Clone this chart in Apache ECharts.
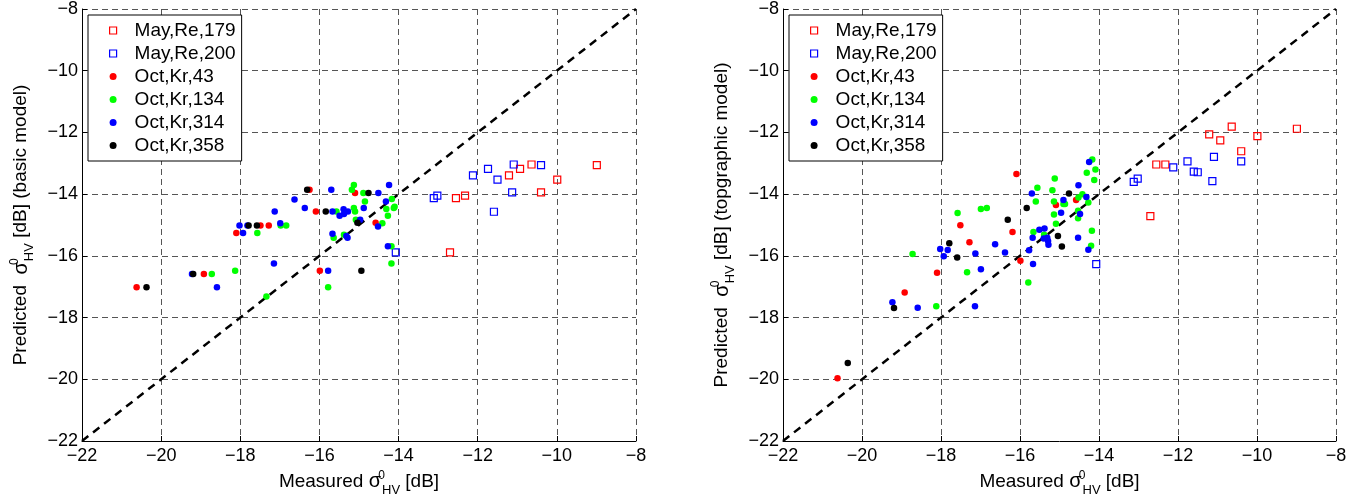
<!DOCTYPE html>
<html>
<head>
<meta charset="utf-8">
<script src="https://cdn.jsdelivr.net/npm/echarts@6/dist/echarts.min.js"></script>
<style>
html, body { margin: 0; padding: 0; background: #fff; }
#basic, #topo { position: absolute; top: 0; width: 681px; height: 504px; }
#basic { left: 0; }
#topo { left: 681px; }
</style>
</head>
<body>
<div id="basic"></div>
<div id="topo"></div>
<script>
var legendNames = ['May,Re,179', 'May,Re,200', 'Oct,Kr,43', 'Oct,Kr,134', 'Oct,Kr,314', 'Oct,Kr,358'];
var axisMin = -22, axisMax = -8, axisStep = 2;
var diagonal = [[-22, -22], [-8, -8]];

// basic model (left)
var may179Basic = [[-10.93, -13.18], [-10.64, -13.04], [-11.21, -13.39], [-9.99, -13.53], [-10.40, -13.94],
    [-8.99, -13.06], [-12.55, -14.13], [-12.32, -14.05], [-12.70, -15.89]];
var may200Basic = [[-12.12, -13.39], [-11.74, -13.18], [-11.50, -13.53], [-11.09, -13.04], [-10.40, -13.06],
    [-11.13, -13.94], [-13.11, -14.13], [-13.02, -14.05], [-11.59, -14.57], [-14.07, -15.89]];
var oct43Basic = [[-16.25, -13.86], [-15.10, -13.96], [-16.09, -14.56], [-14.58, -14.93], [-17.49, -15.02],
    [-17.28, -15.02], [-18.10, -15.26], [-15.99, -16.48], [-18.92, -16.59], [-20.62, -17.02]];
var oct134Basic = [[-15.13, -13.70], [-15.18, -13.86], [-14.89, -13.96], [-14.17, -14.16], [-14.85, -14.24],
    [-15.57, -14.56], [-15.13, -14.45], [-15.10, -14.56], [-14.31, -14.48], [-14.12, -14.45], [-14.10, -14.41],
    [-14.27, -14.70], [-14.41, -14.94], [-15.08, -14.83], [-16.98, -15.02], [-16.84, -15.02], [-17.57, -15.26],
    [-15.64, -15.41], [-15.38, -15.32], [-14.18, -15.69], [-14.18, -16.25], [-18.13, -16.48], [-18.72, -16.59],
    [-15.78, -17.02], [-17.34, -17.32]];
var oct314Basic = [[-15.70, -13.86], [-14.51, -13.96], [-14.24, -13.70], [-14.32, -14.24], [-14.88, -14.45],
    [-16.63, -14.17], [-16.37, -14.45], [-17.13, -14.56], [-15.67, -14.56], [-15.49, -14.70], [-15.38, -14.64],
    [-15.39, -14.49], [-15.28, -14.56], [-14.52, -15.05], [-14.97, -14.83], [-18.02, -15.02], [-17.82, -15.02],
    [-16.99, -14.94], [-17.93, -15.26], [-15.67, -15.28], [-15.32, -15.36], [-15.29, -15.41], [-14.27, -15.69],
    [-17.15, -16.25], [-15.78, -16.48], [-19.22, -16.59], [-18.59, -17.02]];
var oct358Basic = [[-16.31, -13.86], [-14.76, -13.96], [-15.84, -14.56], [-15.04, -14.93], [-17.79, -15.02],
    [-17.58, -15.02], [-14.94, -16.48], [-19.19, -16.59], [-20.37, -17.02]];

// topographic model (right)
var may179Topo = [[-10.64, -11.81], [-8.99, -11.88], [-11.21, -12.06], [-9.99, -12.12], [-10.93, -12.26],
    [-10.40, -12.61], [-12.55, -13.04], [-12.32, -13.04], [-12.70, -14.71]];
var may200Topo = [[-11.09, -12.79], [-10.40, -12.94], [-12.12, -13.13], [-11.76, -12.94], [-11.60, -13.27],
    [-11.50, -13.29], [-11.13, -13.58], [-13.12, -13.60], [-13.02, -13.50], [-14.07, -16.27]];
var oct43Topo = [[-16.09, -13.35], [-14.58, -14.19], [-15.09, -14.35], [-16.19, -15.23], [-15.99, -16.16],
    [-17.28, -15.56], [-17.51, -15.01], [-18.10, -16.55], [-18.92, -17.19], [-20.62, -19.97]];
var oct134Topo = [[-14.17, -12.88], [-14.09, -13.20], [-14.31, -13.31], [-14.12, -13.54], [-15.12, -13.49],
    [-15.56, -13.79], [-15.18, -13.87], [-15.60, -14.24], [-15.14, -14.24], [-14.86, -14.32], [-14.90, -14.32],
    [-14.42, -14.00], [-14.52, -14.11], [-14.27, -14.27], [-15.14, -14.66], [-14.53, -14.54], [-14.53, -14.78],
    [-15.09, -14.96], [-15.66, -15.23], [-15.39, -15.32], [-14.18, -15.19], [-14.20, -15.67], [-15.79, -16.86],
    [-17.34, -16.53], [-17.58, -14.61], [-16.99, -14.48], [-16.84, -14.45], [-18.12, -17.63], [-18.72, -15.94]];
var oct314Topo = [[-14.25, -12.96], [-15.70, -13.98], [-14.90, -14.19], [-14.52, -13.71], [-14.32, -14.09],
    [-14.96, -14.60], [-14.48, -14.64], [-15.51, -15.15], [-15.38, -15.11], [-15.68, -15.41], [-15.40, -15.44],
    [-15.31, -15.41], [-15.29, -15.52], [-15.28, -15.64], [-14.53, -15.41], [-14.27, -15.80], [-15.77, -15.82],
    [-15.67, -16.26], [-16.38, -15.89], [-16.63, -15.62], [-17.13, -15.92], [-16.99, -16.43], [-17.14, -17.63],
    [-18.02, -15.78], [-17.83, -15.81], [-17.93, -16.01], [-19.23, -17.50], [-18.59, -17.68]];
var oct358Topo = [[-14.76, -13.98], [-15.83, -14.45], [-16.31, -14.83], [-15.04, -15.36], [-14.94, -15.70],
    [-17.79, -15.59], [-17.59, -16.05], [-19.19, -17.69], [-20.36, -19.47]];

var colors = ['#ff0000', '#0000ff', '#ff0000', '#00ff00', '#0000ff', '#000000'];
var isSquare = [true, true, false, false, false, false];
var font = 'Liberation Sans, Arial, Helvetica, sans-serif';

var nameRich = {
    m: { fontSize: 19, fontFamily: font, color: '#000' },
    g: { fontSize: 20, fontFamily: font, color: '#000' },
    sup: { fontSize: 12, fontFamily: font, color: '#000', width: 1, padding: [0, 0, 12, 0] },
    sub: { fontSize: 13, fontFamily: font, color: '#000', padding: [17, 0, 0, 0] }
};

function tickText(v) {
    return String(v).replace('-', '\u2212');
}

function axis(name, gap, rotate, labelMargin) {
    return {
        type: 'value',
        min: axisMin,
        max: axisMax,
        interval: axisStep,
        name: name,
        nameLocation: 'middle',
        nameGap: gap,
        nameRotate: rotate,
        nameTextStyle: { rich: nameRich },
        axisLine: { show: true, onZero: false, lineStyle: { color: '#000', width: 1 } },
        axisTick: { show: true, inside: true, length: 5, lineStyle: { color: '#000' } },
        axisLabel: { color: '#000', fontSize: 18, fontFamily: font, margin: labelMargin, formatter: tickText },
        splitLine: { show: true, lineStyle: { color: '#555', width: 1, type: [6, 4] } }
    };
}

function makeOption(yName, groups, gridLeft, gridRight, legendLeft) {
    var series = [{
        type: 'line',
        data: diagonal,
        symbol: 'none',
        silent: true,
        z: 1,
        lineStyle: { color: '#000', width: 2.5, type: [8, 6] }
    }];
    var legendData = [];
    for (var i = 0; i < legendNames.length; i++) {
        var sq = isSquare[i];
        var style = sq
            ? { color: 'rgba(0,0,0,0)', borderColor: colors[i], borderWidth: 1.2, opacity: 1 }
            : { color: colors[i], opacity: 1 };
        series.push({
            name: legendNames[i],
            type: 'scatter',
            data: groups[i],
            symbol: sq ? 'rect' : 'circle',
            symbolSize: sq ? 7 : 6.5,
            itemStyle: style,
            z: sq ? 2 : 3
        });
        legendData.push({ name: legendNames[i], icon: sq ? 'rect' : 'circle', itemStyle: style });
    }
    return {
        animation: false,
        grid: { left: gridLeft, right: gridRight, top: 8, bottom: 63 },
        xAxis: axis('{m|Measured }{g|σ}{sup|0}{sub|HV}{m| [dB]}', 20, 0, 6),
        yAxis: axis(yName, 46, 90, 4),
        legend: {
            orient: 'vertical',
            left: legendLeft,
            top: 15,
            padding: [4, 6, 4, 21],
            itemWidth: 7,
            itemHeight: 7,
            itemGap: 0,
            selectedMode: false,
            borderColor: '#000',
            borderWidth: 1,
            borderRadius: 0,
            backgroundColor: '#fff',
            textStyle: { color: '#000', fontSize: 19, fontFamily: font, lineHeight: 23, padding: [0, 0, 0, 13] },
            data: legendData
        },
        series: series
    };
}

var basicChart = echarts.init(document.getElementById('basic'));
var topoChart = echarts.init(document.getElementById('topo'));

basicChart.setOption(makeOption(
    '{m|Predicted  }{g|σ}{sup|0}{sub|HV}{m| [dB] (basic model)}',
    [may179Basic, may200Basic, oct43Basic, oct134Basic, oct314Basic, oct358Basic],
    82, 45, 88
));
topoChart.setOption(makeOption(
    '{m|Predicted  }{g|σ}{sup|0}{sub|HV}{m| [dB] (topgraphic model)}',
    [may179Topo, may200Topo, oct43Topo, oct134Topo, oct314Topo, oct358Topo],
    102, 26, 108
));
</script>
</body>
</html>
